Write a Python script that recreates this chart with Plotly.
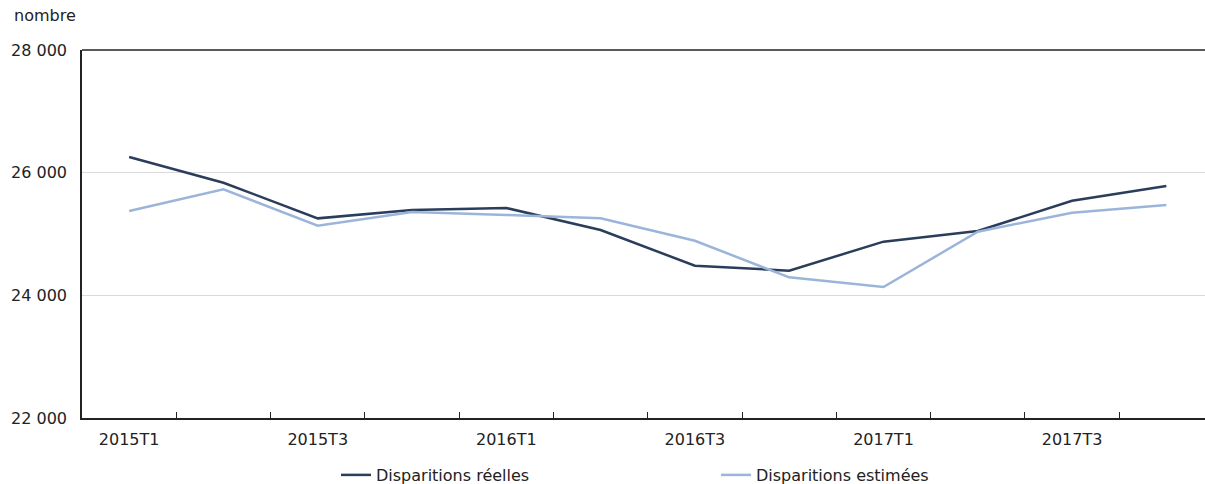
import plotly.graph_objects as go

categories = ["2015T1", "2015T2", "2015T3", "2015T4",
              "2016T1", "2016T2", "2016T3", "2016T4",
              "2017T1", "2017T2", "2017T3", "2017T4"]
reelles = [26255, 25836, 25255, 25391, 25424, 25065,
           24483, 24402, 24875, 25049, 25543, 25783]
estimees = [25375, 25728, 25136, 25359, 25310, 25256,
            24890, 24293, 24135, 25038, 25347, 25473]
y_ticks = [22000, 24000, 26000, 28000]

x_idx = list(range(len(categories)))
label_idx = x_idx[::2]
label_text = [categories[i] for i in label_idx]

FONT = "DejaVu Sans"
DARK = "#2a3d5b"
LIGHT = "#9bb5da"
TXT = "#222222"

W, H = 1205, 484
ML, MT, MB = 82, 50, 66
PW, PH = W - ML, H - MT - MB

fig = go.Figure()
fig.add_trace(go.Scatter(x=x_idx, y=reelles, mode="lines", name="Disparitions réelles",
                         line=dict(color=DARK, width=2.5)))
fig.add_trace(go.Scatter(x=x_idx, y=estimees, mode="lines", name="Disparitions estimées",
                         line=dict(color=LIGHT, width=2.5)))

fig.update_layout(
    width=W, height=H, autosize=False,
    margin=dict(l=ML, r=0, t=MT, b=MB, pad=0),
    paper_bgcolor="white", plot_bgcolor="white",
    separators=", ",
    font=dict(family=FONT, size=16, color=TXT),
    showlegend=True,
    legend=dict(orientation="h", x=(340 - ML - 4) / PW, xanchor="left",
                yref="container", y=(H - 475) / H, yanchor="middle",
                font=dict(family=FONT, size=16, color=TXT),
                entrywidth=335, entrywidthmode="pixels",
                itemwidth=30),
    xaxis=dict(
        range=[-0.5, 11.41],
        tickmode="array", tickvals=label_idx, ticktext=label_text,
        ticks="", showgrid=False, zeroline=False,
        showline=True, linecolor=TXT, linewidth=1.5,
        ticklabelstandoff=6,
        tickfont=dict(family=FONT, size=16, color=TXT),
        minor=dict(tickmode="array", tickvals=[i + 0.5 for i in x_idx],
                   ticks="inside", ticklen=6, tickcolor=TXT, tickwidth=1,
                   showgrid=False),
    ),
    yaxis=dict(
        range=[22000, 28000],
        tickmode="array", tickvals=y_ticks, tickformat=",d",
        ticks="", showgrid=True, gridcolor="#d9d9d9", gridwidth=1,
        zeroline=False, showline=True, linecolor=TXT, linewidth=1.5,
        ticklabelstandoff=10,
        tickfont=dict(family=FONT, size=16, color=TXT),
    ),
    shapes=[dict(type="line", xref="paper", yref="paper", x0=0, x1=1, y0=1, y1=1,
                 line=dict(color=TXT, width=1.5))],
    annotations=[dict(text="nombre", xref="paper", yref="paper",
                      x=(12 - ML) / PW, y=1 + (MT - 15) / PH, xanchor="left", yanchor="middle",
                      showarrow=False, font=dict(family=FONT, size=16, color=TXT))],
)

post = ("document.body.style.margin='0';document.body.style.overflow='hidden';"
        "var gd=document.getElementById('{plot_id}');"
        "gd.style.width='1205px';gd.style.height='484px';"
        "Plotly.relayout(gd,{width:1205,height:484});")

fig.write_html("out.html", post_script=post,
               config={"responsive": False, "displayModeBar": False})
